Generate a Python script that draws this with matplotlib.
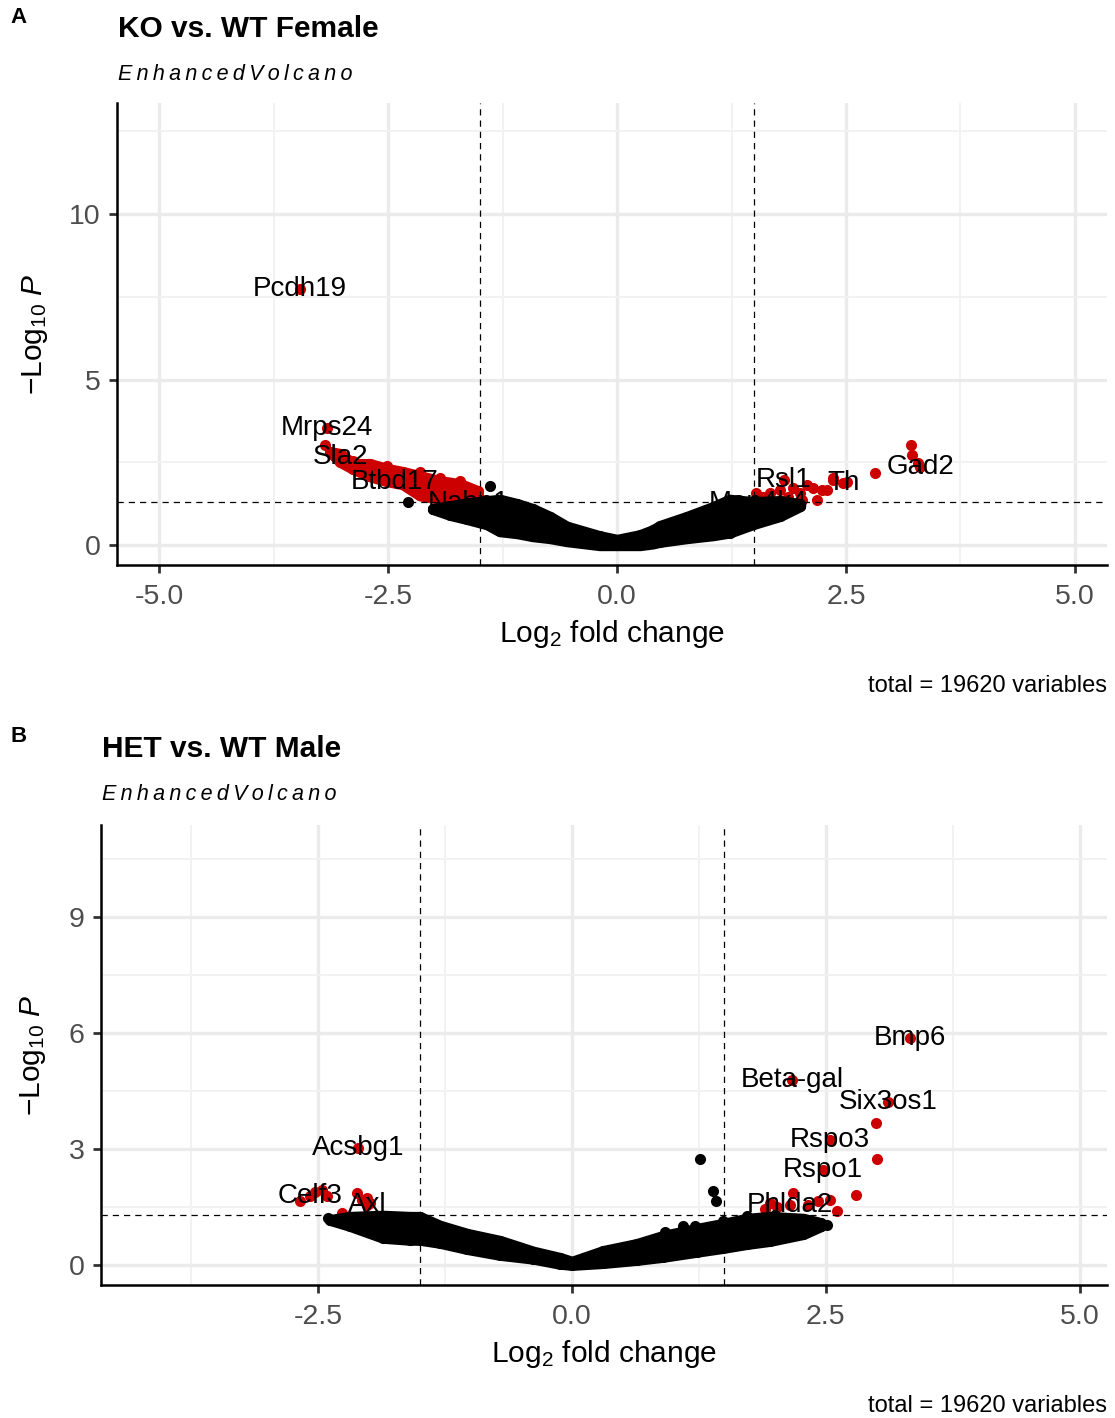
import matplotlib
matplotlib.use('Agg')
import matplotlib.pyplot as plt
import numpy as np

plt.rcParams['font.family'] = ['Liberation Sans', 'DejaVu Sans']
plt.rcParams['mathtext.fontset'] = 'custom'
plt.rcParams['mathtext.rm'] = 'Liberation Sans'
plt.rcParams['mathtext.it'] = 'Liberation Sans:italic'
plt.rcParams['axes.unicode_minus'] = False

RED = '#CC0000'
P_CUTOFF = 0.05
FC_CUTOFF = 1.5
PT_SIZE = 64

# ---------- A: KO vs. WT Female ----------
# non-significant bulk, as upper / lower edge of the point cloud
a_cloud_lfc = [-2.01, -1.82, -1.64, -1.42, -1.28, -1.09, -0.92, -0.73, -0.55, -0.19, 0.00,
               0.25, 0.39, 0.47, 0.76, 1.05, 1.23, 1.48, 1.78, 2.00]
a_cloud_hi = [1.09, 1.18, 1.26, 1.33, 1.37, 1.24, 1.09, 0.85, 0.56, 0.27, 0.16,
              0.30, 0.45, 0.58, 0.85, 1.15, 1.37, 1.30, 1.33, 1.24]
a_cloud_lo = [1.09, 0.91, 0.79, 0.63, 0.42, 0.36, 0.27, 0.21, 0.12, 0.00, 0.00,
              0.00, 0.05, 0.10, 0.21, 0.30, 0.38, 0.63, 0.88, 1.18]
a_black_lfc = [-2.28, -1.39]
a_black_p = [1.30, 1.78]
# dense band of down-regulated genes
a_band_lfc = [-3.13, -3.02, -2.88, -2.70, -2.51, -2.34, -2.15, -1.93, -1.71, -1.52]
a_band_hi = [2.81, 2.75, 2.45, 2.45, 2.30, 2.21, 2.08, 1.93, 1.84, 1.63]
a_band_lo = [2.81, 2.51, 2.30, 2.08, 1.93, 1.84, 1.50, 1.40, 1.36, 1.36]
a_red_lfc = [-3.19, 3.21, 3.22, 3.29, 2.82, 2.36, 2.51, 2.24, 2.18, 2.07, 2.00, 1.92,
             1.78, 1.67, 1.52, 1.59, 2.02, 1.87, 2.14, 2.29, 2.36,
             -2.88, -2.51, -2.15, -1.93, -1.71]
a_red_p = [3.02, 3.02, 2.72, 2.48, 2.18, 1.96, 1.90, 1.66, 1.36, 1.81, 1.57, 1.72,
           1.66, 1.57, 1.57, 1.45, 1.36, 1.45, 1.72, 1.66, 2.02,
           2.55, 2.40, 2.20, 2.04, 1.95]
a_genes = ['Pcdh19', 'Mrps24', 'Sla2', 'Btbd17', 'Nabp1', 'Map4k4', 'Rsl1', 'Th', 'Gad2']
a_gene_lfc = [-3.46, -3.17, -3.02, -2.43, -1.62, 1.54, 1.82, 2.47, 3.31]
a_gene_p = [7.73, 3.53, 2.66, 1.90, 1.34, 1.34, 1.96, 1.87, 2.36]
# vertical nudge of each label, in points
a_gene_dy = [0, 0, 0, 0, -1.5, -1.5, 0, 0, 0]

# ---------- B: HET vs. WT Male ----------
b_cloud_lfc = [-2.38, -2.19, -1.86, -1.60, -1.50, -1.30, -1.03, -0.71, -0.38, -0.12, 0.00,
               0.31, 0.64, 0.90, 1.23, 1.49, 1.72, 1.95, 2.28, 2.45]
b_cloud_hi = [1.16, 1.24, 1.27, 1.24, 1.24, 1.01, 0.80, 0.62, 0.34, 0.18, 0.08,
              0.36, 0.54, 0.75, 0.93, 1.06, 1.19, 1.24, 1.19, 1.08]
b_cloud_lo = [1.16, 1.01, 0.70, 0.65, 0.65, 0.57, 0.41, 0.26, 0.16, 0.03, 0.00,
              0.05, 0.13, 0.21, 0.34, 0.44, 0.54, 0.62, 0.80, 1.00]
b_black_lfc = [1.26, 1.39, 1.42, -2.40, -2.33, 0.92, 1.09, 1.21, 1.49, 1.72, 2.51, 2.00, 2.12]
b_black_p = [2.74, 1.91, 1.66, 1.22, 1.14, 0.85, 1.01, 1.01, 1.14, 1.27, 1.04, 1.30, 0.98]
b_red_lfc = [2.99, 3.00, 2.80, 2.18, 2.54, 2.61, 1.95, 2.32, 2.02, 2.42, 1.90,
             -2.68, -2.53, -2.46, -2.41, -2.12, -2.02, -2.07, -1.99, -2.27]
b_red_p = [3.67, 2.74, 1.81, 1.86, 1.68, 1.40, 1.60, 1.55, 1.50, 1.64, 1.45,
           1.66, 1.89, 1.94, 1.79, 1.86, 1.73, 1.68, 1.60, 1.35]
b_genes = ['Bmp6', 'Beta-gal', 'Six3os1', 'Rspo3', 'Rspo1', 'Phlda2', 'Acsbg1', 'Celf3', 'Axl']
b_gene_lfc = [3.33, 2.17, 3.11, 2.54, 2.47, 2.15, -2.11, -2.58, -2.02]
b_gene_p = [5.87, 4.79, 4.22, 3.23, 2.46, 1.55, 3.03, 1.79, 1.55]
b_gene_dy = [0, 0, 0, 0, 0, 0, 0, 0, 0]


def draw_cloud(ax, xs, hi, lo, color, z):
    # filled band with a round stroke, plus markers on both edges
    ax.fill_between(xs, lo, hi, facecolor=color, edgecolor=color, linewidth=8,
                    joinstyle='round', zorder=z)
    ax.scatter(list(xs) + list(xs), list(hi) + list(lo), s=PT_SIZE, color=color, lw=0, zorder=z)


def volcano(ax, cloud, band, black, red, genes, xlim, ylim, xticks, yticks, xminor, yminor,
            xlab_y, ylab_x):
    if band is not None:
        draw_cloud(ax, band[0], band[1], band[2], RED, 2)
    ax.scatter(red[0], red[1], s=PT_SIZE, color=RED, lw=0, zorder=2)
    ax.scatter(genes[1], genes[2], s=PT_SIZE, color=RED, lw=0, zorder=2)
    for name, x, y, dy in zip(*genes):
        ax.annotate(name, (x, y), xytext=(0, dy), textcoords='offset points',
                    fontsize=20, ha='center', va='center', zorder=3)
    draw_cloud(ax, cloud[0], cloud[1], cloud[2], 'black', 4)
    ax.scatter(black[0], black[1], s=PT_SIZE, color='black', lw=0, zorder=4)

    dash = (0, (5, 4))
    ax.axvline(-FC_CUTOFF, color='black', lw=0.9, ls=dash, zorder=5)
    ax.axvline(FC_CUTOFF, color='black', lw=0.9, ls=dash, zorder=5)
    ax.axhline(-np.log10(P_CUTOFF), color='black', lw=0.9, ls=dash, zorder=5)

    ax.set_xlim(*xlim)
    ax.set_ylim(*ylim)
    ax.set_xticks(xticks)
    ax.set_xticklabels([f'{t:.1f}' for t in xticks])
    ax.set_yticks(yticks)
    ax.set_yticklabels([f'{t:g}' for t in yticks])
    ax.set_xticks(xminor, minor=True)
    ax.set_yticks(yminor, minor=True)
    ax.tick_params(which='major', direction='out', length=5.8, width=2, color='#333333',
                   labelsize=20.5, labelcolor='#4D4D4D')
    ax.tick_params(axis='x', which='major', pad=8)
    ax.tick_params(axis='y', which='major', pad=6)
    ax.tick_params(which='minor', length=0)
    ax.grid(which='major', color='#EBEBEB', lw=2.4)
    ax.grid(which='minor', color='#F2F2F2', lw=1.4)
    ax.set_axisbelow(True)
    for side in ('top', 'right'):
        ax.spines[side].set_visible(False)
    for side in ('left', 'bottom'):
        ax.spines[side].set_linewidth(1.8)
        ax.spines[side].set_color('black')

    ax.set_xlabel(r'Log$_{2}$ fold change', fontsize=21.5)
    ax.xaxis.label.set_va('center')
    ax.xaxis.set_label_coords(0.5, xlab_y)
    ax.set_ylabel(r'$-$Log$_{10}$ $\mathit{P}$', fontsize=21.5)
    ax.yaxis.label.set_va('center')
    ax.yaxis.set_label_coords(ylab_x, 0.5)


W, H = 1115, 1418
fig = plt.figure(figsize=(W / 100, H / 100), dpi=100)


def px_axes(left, top, right, bottom):
    return fig.add_axes([left / W, 1 - bottom / H, (right - left) / W, (bottom - top) / H])


sub = '\u2009'.join('EnhancedVolcano')

axA = px_axes(117, 103, 1107, 565)
volcano(axA, (a_cloud_lfc, a_cloud_hi, a_cloud_lo), (a_band_lfc, a_band_hi, a_band_lo),
        (a_black_lfc, a_black_p), (a_red_lfc, a_red_p),
        (a_genes, a_gene_lfc, a_gene_p, a_gene_dy),
        (-5.46, 5.35), (-0.6, 13.35), [-5.0, -2.5, 0.0, 2.5, 5.0], [0, 5, 10],
        [-3.75, -1.25, 1.25, 3.75], [2.5, 7.5, 12.5], -0.149, -0.083)
fig.text(10 / W, 1 - 23 / H, 'A', fontsize=16, fontweight='bold', va='baseline')
fig.text(118 / W, 1 - 37 / H, 'KO vs. WT Female', fontsize=21.5, fontweight='bold', va='baseline')
fig.text(118 / W, 1 - 80 / H, sub, fontsize=15.5, style='italic', va='baseline')
fig.text(1107 / W, 1 - 692 / H, 'total = 19620 variables', fontsize=17, ha='right', va='baseline')

axB = px_axes(101, 825, 1107, 1285)
volcano(axB, (b_cloud_lfc, b_cloud_hi, b_cloud_lo), None,
        (b_black_lfc, b_black_p), (b_red_lfc, b_red_p),
        (b_genes, b_gene_lfc, b_gene_p, b_gene_dy),
        (-4.64, 5.27), (-0.52, 11.37), [-2.5, 0.0, 2.5, 5.0], [0, 3, 6, 9],
        [-3.75, -1.25, 1.25, 3.75], [1.5, 4.5, 7.5, 10.5], -0.149, -0.068)
fig.text(10 / W, 1 - 742 / H, 'B', fontsize=16, fontweight='bold', va='baseline')
fig.text(102 / W, 1 - 757 / H, 'HET vs. WT Male', fontsize=21.5, fontweight='bold', va='baseline')
fig.text(102 / W, 1 - 800 / H, sub, fontsize=15.5, style='italic', va='baseline')
fig.text(1107 / W, 1 - 1412 / H, 'total = 19620 variables', fontsize=17, ha='right', va='baseline')

fig.savefig('out.png', dpi=100)
